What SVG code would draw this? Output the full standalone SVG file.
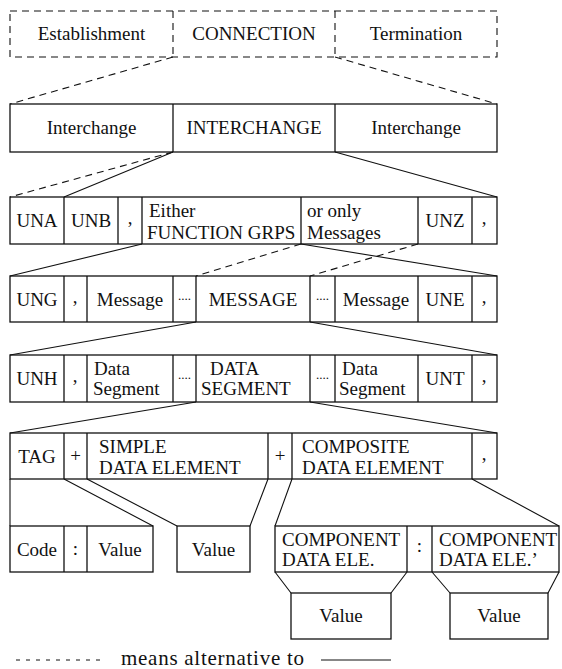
<svg xmlns="http://www.w3.org/2000/svg" width="562" height="669" viewBox="0 0 562 669">
<style>
.b{fill:none;stroke:#111;stroke-width:1.3}
.d{fill:none;stroke:#111;stroke-width:1.1;stroke-dasharray:7,5}
.c{fill:none;stroke:#111;stroke-width:1.1}
text{font-family:"Liberation Serif","Times New Roman",serif;font-size:19px;fill:#111}
.m{text-anchor:middle}
.s{font-size:13px}
</style>
<rect width="562" height="669" fill="#fff"/>
<g id="row1">
<rect class="d" x="10" y="11" width="487" height="46"/>
<line class="d" x1="173" y1="11" x2="173" y2="57"/>
<line class="d" x1="335" y1="11" x2="335" y2="57"/>
<text class="m" x="91.5" y="40">Establishment</text>
<text class="m" x="254" y="40">CONNECTION</text>
<text class="m" x="416" y="40">Termination</text>
</g>
<g id="row2">
<rect class="b" x="10" y="104" width="487" height="48"/>
<line class="b" x1="173" y1="104" x2="173" y2="152"/>
<line class="b" x1="335" y1="104" x2="335" y2="152"/>
<text class="m" x="91.5" y="134">Interchange</text>
<text class="m" x="254" y="134">INTERCHANGE</text>
<text class="m" x="416" y="134">Interchange</text>
</g>
<g id="row3">
<rect class="b" x="10" y="197" width="487" height="47"/>
<path class="b" d="M64 197V244M118 197V244M142 197V244M301 197V244M418 197V244M472 197V244"/>
<text class="m" x="37" y="227">UNA</text>
<text class="m" x="91" y="227">UNB</text>
<text class="m" x="130" y="224">,</text>
<text x="149" y="217">Either</text>
<text x="147" y="239">FUNCTION GRPS</text>
<text x="307" y="217">or only</text>
<text x="307" y="239">Messages</text>
<text class="m" x="445" y="227">UNZ</text>
<text class="m" x="484" y="224">,</text>
</g>
<g id="row4">
<rect class="b" x="10" y="276" width="487" height="46"/>
<path class="b" d="M64 276V322M87 276V322M173 276V322M196 276V322M310 276V322M335 276V322M418 276V322M472 276V322"/>
<text class="m" x="37" y="306">UNG</text>
<text class="m" x="75" y="303">,</text>
<text class="m" x="130" y="306">Message</text>
<text class="m s" x="184.5" y="300">....</text>
<text class="m" x="253" y="306">MESSAGE</text>
<text class="m s" x="322.5" y="300">....</text>
<text class="m" x="376" y="306">Message</text>
<text class="m" x="445" y="306">UNE</text>
<text class="m" x="484" y="303">,</text>
</g>
<g id="row5">
<rect class="b" x="10" y="355" width="487" height="47"/>
<path class="b" d="M64 355V402M87 355V402M173 355V402M196 355V402M310 355V402M335 355V402M418 355V402M472 355V402"/>
<text class="m" x="37" y="385">UNH</text>
<text class="m" x="75" y="382">,</text>
<text x="94" y="375">Data</text>
<text x="93" y="395">Segment</text>
<text class="m s" x="184.5" y="379">....</text>
<text x="210" y="375">DATA</text>
<text x="201" y="395">SEGMENT</text>
<text class="m s" x="322.5" y="379">....</text>
<text x="342" y="375">Data</text>
<text x="339" y="395">Segment</text>
<text class="m" x="445" y="385">UNT</text>
<text class="m" x="484" y="382">,</text>
</g>
<g id="row6">
<rect class="b" x="10" y="433" width="487" height="46"/>
<path class="b" d="M64 433V479M87 433V479M268 433V479M292 433V479M472 433V479"/>
<text class="m" x="37" y="463">TAG</text>
<text class="m" x="75.5" y="462">+</text>
<text x="99" y="453">SIMPLE</text>
<text x="99" y="474">DATA ELEMENT</text>
<text class="m" x="280" y="462">+</text>
<text x="302" y="453">COMPOSITE</text>
<text x="302" y="474">DATA ELEMENT</text>
<text class="m" x="484" y="460">,</text>
</g>
<g id="row7-code">
<rect class="b" x="10" y="526" width="143" height="46"/>
<path class="b" d="M64 526V572M87 526V572"/>
<text class="m" x="37" y="556">Code</text>
<text class="m" x="75.5" y="555">:</text>
<text class="m" x="120" y="556">Value</text>
</g>
<g id="row7-value">
<rect class="b" x="177" y="526" width="73" height="46"/>
<text class="m" x="213.5" y="556">Value</text>
</g>
<g id="row7-component">
<rect class="b" x="275" y="526" width="284" height="46"/>
<path class="b" d="M407 526V572M432 526V572"/>
<text x="282" y="546">COMPONENT</text>
<text x="282" y="566">DATA ELE.</text>
<text class="m" x="419.5" y="552">:</text>
<text x="439" y="546">COMPONENT</text>
<text x="439" y="566">DATA ELE.’</text>
</g>
<g id="row8-value1">
<rect class="b" x="291" y="593" width="100" height="46"/>
<text class="m" x="341" y="622">Value</text>
</g>
<g id="row8-value2">
<rect class="b" x="450" y="593" width="98" height="46"/>
<text class="m" x="499" y="622">Value</text>
</g>
<g id="connectors">
<path class="d" d="M173 57L10 104M335 57L497 104"/>
<path class="d" d="M173 152L10 197"/>
<path class="c" d="M173 152L64 197M335 152L497 197"/>
<path class="c" d="M142 244L10 276M301 244L497 276"/>
<path class="d" d="M301 244L196 276M418 244L310 276"/>
<path class="c" d="M196 322L10 355M310 322L497 355"/>
<path class="c" d="M196 402L10 433M310 402L497 433"/>
<path class="c" d="M10 479L10 526M64 479L153 526M87 479L177 526M268 479L250 526M292 479L275 526M472 479L559 526"/>
<path class="c" d="M275 572L291 593M407 572L391 593M432 572L450 593M559 572L548 593"/>
</g>
<g id="legend">
<line x1="16" y1="660" x2="104" y2="660" stroke="#111" stroke-width="1" stroke-dasharray="4,6"/>
<text x="121" y="665" style="font-size:21px" textLength="183" lengthAdjust="spacing">means alternative to</text>
<line x1="321" y1="660" x2="391" y2="660" stroke="#111" stroke-width="1.1"/>
</g>
</svg>
